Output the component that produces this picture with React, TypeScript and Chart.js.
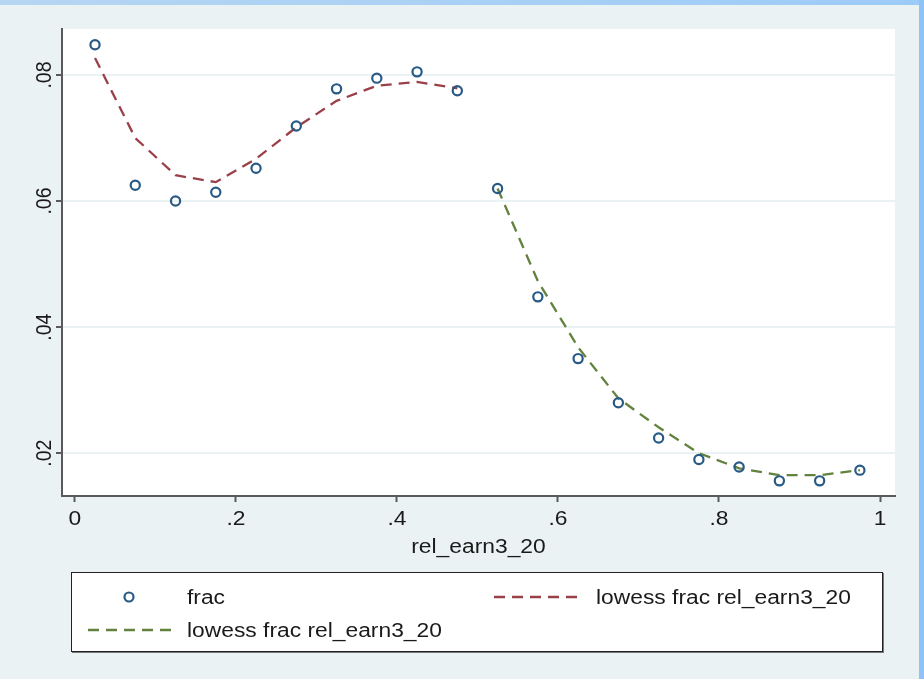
import React, { useEffect, useRef } from 'react';
import { Chart, registerables } from 'chart.js';

Chart.register(...registerables);

// ---- data ----
const xBins = [0.025, 0.075, 0.125, 0.175, 0.225, 0.275, 0.325, 0.375, 0.425, 0.475,
  0.525, 0.575, 0.625, 0.675, 0.725, 0.775, 0.825, 0.875, 0.925, 0.975];
const fracValues = [0.0848, 0.0625, 0.0600, 0.0614, 0.0652, 0.0719, 0.0778, 0.0795, 0.0805, 0.0775,
  0.0620, 0.0448, 0.0350, 0.0280, 0.0224, 0.0190, 0.0178, 0.0156, 0.0156, 0.0173];
const lowessLowX = [0.025, 0.075, 0.125, 0.175, 0.225, 0.275, 0.325, 0.375, 0.425, 0.475];
const lowessLowValues = [0.0827, 0.0700, 0.0641, 0.0630, 0.0667, 0.0717, 0.0759, 0.0783, 0.0789, 0.0779];
const lowessHighX = [0.525, 0.575, 0.625, 0.675, 0.725, 0.775, 0.825, 0.875, 0.925, 0.975];
const lowessHighValues = [0.0620, 0.0473, 0.0368, 0.0287, 0.0241, 0.0200, 0.0176, 0.0165, 0.0165, 0.0173];
const xTicks = [0, 0.2, 0.4, 0.6, 0.8, 1];
const xTickLabels = ['0', '.2', '.4', '.6', '.8', '1'];
const yTicks = [0.02, 0.04, 0.06, 0.08];
const yTickLabels = ['.02', '.04', '.06', '.08'];
const xTitle = 'rel_earn3_20';
const legendLabels = ['frac', 'lowess frac rel_earn3_20', 'lowess frac rel_earn3_20'];

const NAVY = '#285a86';
const MAROON = '#9a4049';
const GREEN = '#62823d';
const BG = '#eaf2f3';
const AXIS = '#5a5a5a';
const FONT = '"Liberation Sans", Arial, sans-serif';
const STRETCH = 1.17;

const labelPlugin = {
  id: 'stataLabels',
  beforeDraw(chart: any) {
    const { ctx, chartArea } = chart;
    ctx.save();
    ctx.fillStyle = '#ffffff';
    ctx.fillRect(chartArea.left, chartArea.top, chartArea.right - chartArea.left, chartArea.bottom - chartArea.top);
    ctx.restore();
  },
  afterDraw(chart: any) {
    const { ctx, chartArea } = chart;
    const xs = chart.scales.x;
    const ys = chart.scales.y;
    ctx.save();
    ctx.fillStyle = '#1a1a1a';
    ctx.font = `19.5px ${FONT}`;
    ctx.textAlign = 'center';
    ctx.textBaseline = 'middle';
    xTicks.forEach((v, i) => {
      const px = xs.getPixelForValue(v);
      ctx.save();
      ctx.translate(px, xs.top + 24);
      ctx.scale(STRETCH, 1);
      ctx.fillText(xTickLabels[i], 0, 0);
      ctx.restore();
    });
    yTicks.forEach((v, i) => {
      const py = ys.getPixelForValue(v);
      ctx.save();
      ctx.translate(ys.right - 17, py);
      ctx.rotate(-Math.PI / 2);
      ctx.scale(1, STRETCH);
      ctx.fillText(yTickLabels[i], 0, 0);
      ctx.restore();
    });
    ctx.save();
    ctx.translate((chartArea.left + chartArea.right) / 2, xs.top + 52);
    ctx.scale(STRETCH, 1);
    ctx.fillText(xTitle, 0, 0);
    ctx.restore();
    ctx.restore();
  },
};

function Legend() {
  const textStyle = (left: number, top: number): React.CSSProperties => ({
    position: 'absolute',
    left,
    top,
    fontFamily: FONT,
    fontSize: '19.5px',
    lineHeight: '22px',
    color: '#1a1a1a',
    whiteSpace: 'nowrap',
    transform: `scaleX(${STRETCH})`,
    transformOrigin: 'left center',
  });
  return (
    <div
      style={{
        position: 'absolute',
        left: 71,
        top: 572,
        width: 810,
        height: 78,
        background: '#fff',
        border: '1px solid #222',
        boxShadow: '1px 1px 0 #777',
      }}
    >
      <svg width={810} height={78} style={{ position: 'absolute', left: 0, top: 0 }}>
        <circle cx={57} cy={24} r={4.5} fill="none" stroke={NAVY} strokeWidth={2.2} />
        <line x1={422} y1={24} x2={509} y2={24} stroke={MAROON} strokeWidth={2.3} strokeDasharray="11 7" />
        <line x1={16} y1={57} x2={101} y2={57} stroke={GREEN} strokeWidth={2.3} strokeDasharray="11 7" />
      </svg>
      <div style={textStyle(115, 13)}>{legendLabels[0]}</div>
      <div style={textStyle(524, 13)}>{legendLabels[1]}</div>
      <div style={textStyle(115, 46)}>{legendLabels[2]}</div>
    </div>
  );
}

export default function App() {
  const canvasRef = useRef<HTMLCanvasElement | null>(null);

  useEffect(() => {
    document.body.style.margin = '0';
    const canvas = canvasRef.current;
    if (!canvas) return;
    const chart = new Chart(canvas, {
      type: 'scatter',
      data: {
        datasets: [
          {
            label: legendLabels[0],
            data: xBins.map((x, i) => ({ x, y: fracValues[i] })),
            showLine: false,
            pointStyle: 'circle',
            pointRadius: 4.6,
            pointBorderWidth: 2.2,
            pointBorderColor: NAVY,
            pointBackgroundColor: 'rgba(0,0,0,0)',
            order: 0,
          },
          {
            label: legendLabels[1],
            data: lowessLowX.map((x, i) => ({ x, y: lowessLowValues[i] })),
            showLine: true,
            borderColor: MAROON,
            borderWidth: 2.3,
            borderDash: [11, 7],
            pointRadius: 0,
            tension: 0,
            order: 1,
          },
          {
            label: legendLabels[2],
            data: lowessHighX.map((x, i) => ({ x, y: lowessHighValues[i] })),
            showLine: true,
            borderColor: GREEN,
            borderWidth: 2.3,
            borderDash: [11, 7],
            pointRadius: 0,
            tension: 0,
            order: 2,
          },
        ],
      },
      options: {
        responsive: false,
        animation: false,
        events: [],
        layout: { padding: { top: 29, right: 29, left: 0, bottom: 113 } },
        plugins: {
          legend: { display: false },
          tooltip: { enabled: false },
          title: { display: false },
        },
        scales: {
          x: {
            type: 'linear',
            min: -0.016,
            max: 1.0186,
            afterBuildTicks: (s: any) => {
              s.ticks = xTicks.map((v) => ({ value: v }));
            },
            afterFit: (s: any) => {
              s.height = 70;
            },
            ticks: { display: false },
            grid: {
              drawOnChartArea: false,
              drawTicks: true,
              tickLength: 6,
              tickColor: AXIS,
              tickWidth: 2,
            },
            border: { display: true, color: AXIS, width: 2 },
          },
          y: {
            type: 'linear',
            min: 0.0132,
            max: 0.0873,
            afterBuildTicks: (s: any) => {
              s.ticks = yTicks.map((v) => ({ value: v }));
            },
            afterFit: (s: any) => {
              s.width = 62;
            },
            ticks: { display: false },
            grid: {
              color: BG,
              lineWidth: 2,
              drawTicks: true,
              tickLength: 6,
              tickColor: AXIS,
              tickWidth: 2,
            },
            border: { display: true, color: AXIS, width: 2 },
          },
        },
      },
      plugins: [labelPlugin],
    });
    return () => chart.destroy();
  }, []);

  return (
    <div style={{ position: 'relative', width: 924, height: 679, background: BG, overflow: 'hidden' }}>
      <canvas ref={canvasRef} width={924} height={679} style={{ position: 'absolute', left: 0, top: 0 }} />
      <Legend />
      <div
        style={{
          position: 'absolute',
          left: 0,
          top: 0,
          width: 924,
          height: 5,
          background: 'linear-gradient(to right, #b6d6f2, #9dcbf8)',
        }}
      />
      <div style={{ position: 'absolute', right: 0, top: 0, width: 5, height: 679, background: '#8fc3f7' }} />
    </div>
  );
}
